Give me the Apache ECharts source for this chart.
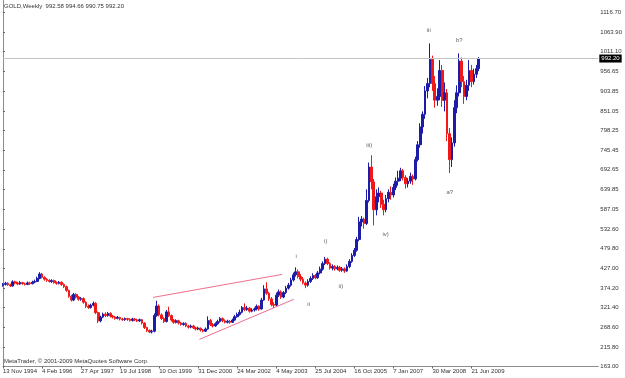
<!DOCTYPE html>
<html>
<head>
<meta charset="utf-8">
<script src="https://cdn.jsdelivr.net/npm/echarts@6/dist/echarts.min.js"></script>
<style>
  html, body { margin: 0; padding: 0; background: #fff; }
  #chart { width: 625px; height: 378px; }
</style>
</head>
<body>
<div id="chart"></div>
<script>
  // x axis date labels, one every 16 bars (bars are 4-week bars)
  const dateLabels = ["13 Nov 1994", "4 Feb 1996", "27 Apr 1997", "19 Jul 1998", "10 Oct 1999", "31 Dec 2000",
    "24 Mar 2002", "4 May 2003", "25 Jul 2004", "16 Oct 2005", "7 Jan 2007", "30 Mar 2008", "21 Jun 2009"];
  const labelStep = 16;
  const slotCount = 245;

  // price scale labels on the right
  const priceLabels = [1116.70, 1063.90, 1011.10, 956.65, 903.85, 851.05, 798.25, 745.45, 692.65, 639.85,
    587.05, 532.60, 479.80, 427.00, 374.20, 321.40, 268.60, 215.80, 163.00];

  // last bar: open high low close
  const lastBar = [992.58, 994.66, 990.75, 992.20];
  const bidPrice = 992.20;

  // [open, close, low, high]
  const goldBars = [
    [381,384,378,388],[384,387,381,391],[387,383,380,390],[383,380,377,386],[380,391,378,395],
    [391,388,384,394],[388,385,382,391],[385,389,383,393],[389,386,383,391],[386,384,381,389],
    [384,388,382,392],[388,386,383,391],[386,390,384,394],[390,392,387,397],[392,400,390,405],
    [400,412,398,417],[412,403,400,415],[403,398,394,406],[398,395,391,401],[395,392,389,398],
    [392,394,388,398],[394,389,386,397],[389,387,383,392],[387,390,384,393],[390,384,380,392],
    [384,378,374,387],[378,368,364,381],[368,352,348,370],[352,342,338,356],[342,357,339,361],
    [357,350,346,360],[350,344,340,353],[344,346,340,350],[346,336,332,349],[336,325,320,339],
    [325,322,318,330],[322,328,319,332],[328,333,325,338],[333,308,304,336],[308,286,280,311],
    [286,296,282,300],[296,304,293,308],[304,300,296,309],[300,306,297,310],[306,299,295,309],
    [299,296,292,302],[296,293,289,299],[293,295,290,299],[295,291,287,297],[291,289,286,294],
    [289,292,286,295],[292,290,286,294],[290,287,284,293],[287,291,284,294],[291,288,285,293],
    [288,286,283,292],[286,289,283,292],[289,280,276,291],[280,268,264,282],[268,260,256,270],
    [260,256,253,263],[256,258,252,262],[258,300,255,306],[300,326,297,340],[326,302,298,330],
    [302,292,288,306],[292,284,280,296],[284,310,282,315],[310,300,296,324],[300,288,284,303],
    [288,282,278,291],[282,286,279,290],[286,280,276,289],[280,276,273,283],[276,279,273,282],
    [279,272,269,282],[272,269,265,275],[269,272,266,276],[272,267,264,275],[267,264,260,270],
    [264,266,261,270],[266,261,257,268],[261,258,255,264],[258,264,256,268],[264,287,262,298],
    [287,276,272,291],[276,272,268,280],[272,278,270,282],[278,284,275,289],[284,292,281,296],
    [292,286,282,295],[286,282,279,290],[282,285,279,289],[285,282,278,288],[282,288,280,292],
    [288,297,286,302],[297,303,294,308],[303,309,300,316],[309,322,306,326],[322,316,312,333],
    [316,320,313,326],[320,312,308,323],[312,315,309,320],[315,318,311,322],[318,325,314,330],
    [325,318,313,328],[318,342,316,348],[342,372,340,382],[372,360,356,390],[360,345,340,364],
    [345,330,325,350],[330,328,320,336],[328,355,326,362],[355,364,350,370],[364,350,345,368],
    [350,362,347,366],[362,374,358,380],[374,382,370,388],[382,396,378,402],[396,410,392,416],
    [410,418,405,430],[418,405,400,424],[405,398,392,412],[398,388,384,404],[388,382,374,392],
    [382,392,378,398],[392,400,388,406],[400,408,396,414],[408,402,398,412],[402,415,399,420],
    [415,425,411,432],[425,440,421,446],[440,452,436,458],[452,440,436,456],[440,428,424,444],
    [428,432,422,438],[432,426,421,436],[426,430,422,435],[430,422,418,434],[422,426,418,431],
    [426,420,415,430],[420,432,418,438],[432,446,428,452],[446,462,442,468],[462,476,458,482],
    [476,505,472,512],[505,552,500,566],[552,560,540,568],[560,548,534,564],[548,610,544,640],
    [610,700,605,712],[700,660,640,732],[660,585,543,668],[585,620,570,640],[620,630,605,645],
    [630,600,590,636],[600,585,570,612],[585,615,578,625],[615,632,605,640],[632,625,612,648],
    [625,645,618,655],[645,662,638,672],[662,670,650,690],[670,690,662,698],[690,672,664,695],
    [672,655,642,678],[655,662,645,670],[662,675,655,685],[675,668,652,680],[668,720,664,728],
    [720,760,715,770],[760,808,752,818],[808,842,790,850],[842,905,830,918],[905,925,885,940],
    [925,990,915,1033],[990,925,905,1000],[925,880,860,945],[880,890,865,912],[890,960,880,988],
    [960,880,862,975],[880,900,850,928],[900,790,770,910],[790,720,684,805],[720,765,700,780],
    [765,860,755,880],[860,900,845,920],[900,985,890,1006],[985,930,915,995],[930,890,870,945],
    [890,920,880,935],[920,960,905,988],[960,930,915,975],[930,950,922,965],[950,965,940,975],
    [965,992,958,996]
  ];

  // trend lines drawn on the chart: [barIndex, price]
  const upperTrend = [[61.5, 349], [114.4, 411]];
  const lowerTrend = [[80.5, 236], [119.2, 344]];

  // wave count labels: [barIndex, price, text]
  const waveLabels = [
    [120.2, 460, "i"], [125.3, 330, "ii"], [132.3, 499, "i)"], [138.5, 380, "ii)"],
    [150.1, 759, "iii)"], [156.8, 519, "iv)"], [174.5, 1067, "iii"], [187, 1040, "b?"], [183.1, 631, "a?"]
  ];

  const slots = Array.from({ length: slotCount }, (_, i) => String(i));
  const font = "Liberation Sans";
  const fs = 6;

  const chart = echarts.init(document.getElementById("chart"));

  const option = {
    animation: false,
    backgroundColor: "#fff",
    grid: { left: 2, right: 23, top: 0, bottom: 11.5 },
    xAxis: [
      {
        type: "category",
        data: slots,
        boundaryGap: false,
        axisLine: { lineStyle: { color: "#8c8c8c", width: 1 } },
        axisTick: {
          show: true,
          length: 2,
          interval: (i) => i % labelStep === 0 && i / labelStep < dateLabels.length,
          lineStyle: { color: "#666" }
        },
        axisLabel: {
          interval: (i) => i % labelStep === 0 && i / labelStep < dateLabels.length,
          formatter: (v, i) => dateLabels[Math.round(Number(v) / labelStep)] || "",
          align: "left",
          margin: 2,
          fontFamily: font,
          fontSize: fs,
          color: "#333"
        },
        splitLine: { show: false }
      },
      { type: "value", min: 0, max: slotCount - 1, show: false }
    ],
    yAxis: [
      {
        type: "value",
        position: "right",
        min: 163,
        max: 1149.8,
        axisLine: { show: true, lineStyle: { color: "#8c8c8c", width: 1 } },
        axisTick: { show: true, length: 2, customValues: priceLabels, lineStyle: { color: "#666" } },
        axisLabel: {
          customValues: priceLabels,
          formatter: (v) => v.toFixed(2),
          margin: 2,
          fontFamily: font,
          fontSize: fs,
          color: "#333"
        },
        splitLine: { show: false }
      },
      {
        type: "value",
        position: "left",
        min: 163,
        max: 1149.8,
        axisLine: { show: true, lineStyle: { color: "#8c8c8c", width: 1 } },
        axisTick: { show: false },
        axisLabel: { show: false },
        splitLine: { show: false }
      }
    ],
    series: [
      {
        type: "candlestick",
        xAxisIndex: 0,
        yAxisIndex: 0,
        data: goldBars,
        barWidth: 2.2,
        itemStyle: {
          color: "#1c1ca8",
          color0: "#f01818",
          borderColor: "#1c1ca8",
          borderColor0: "#f01818",
          borderWidth: 1
        },
        markLine: {
          silent: true,
          symbol: "none",
          lineStyle: { color: "#c4c4c4", type: "solid", width: 1 },
          label: {
            position: "end",
            formatter: bidPrice.toFixed(2),
            backgroundColor: "#000",
            color: "#fff",
            fontFamily: font,
            fontSize: fs,
            padding: [1, 2],
            distance: 1
          },
          data: [{ yAxis: bidPrice }]
        }
      },
      {
        type: "line",
        xAxisIndex: 1,
        yAxisIndex: 0,
        data: upperTrend,
        symbol: "none",
        lineStyle: { color: "#f06e8c", width: 1 }
      },
      {
        type: "line",
        xAxisIndex: 1,
        yAxisIndex: 0,
        data: lowerTrend,
        symbol: "none",
        lineStyle: { color: "#f06e8c", width: 1 }
      },
      {
        type: "scatter",
        xAxisIndex: 1,
        yAxisIndex: 0,
        symbolSize: 0,
        data: waveLabels.map((w) => ({ value: [w[0], w[1]], name: w[2] })),
        label: {
          show: true,
          position: "inside",
          formatter: (p) => p.name,
          fontFamily: font,
          fontSize: fs,
          color: "#333"
        }
      }
    ],
    graphic: [
      {
        type: "text",
        left: 4,
        top: 3,
        style: {
          text: "GOLD,Weekly  " + lastBar.map((v) => v.toFixed(2)).join(" "),
          font: fs + "px " + font,
          fill: "#333"
        }
      },
      {
        type: "text",
        left: 4,
        top: 358,
        style: {
          text: "MetaTrader, © 2001-2009 MetaQuotes Software Corp.",
          font: fs + "px " + font,
          fill: "#333"
        }
      }
    ]
  };

  chart.setOption(option);
  window.addEventListener("resize", () => chart.resize());
</script>
</body>
</html>
